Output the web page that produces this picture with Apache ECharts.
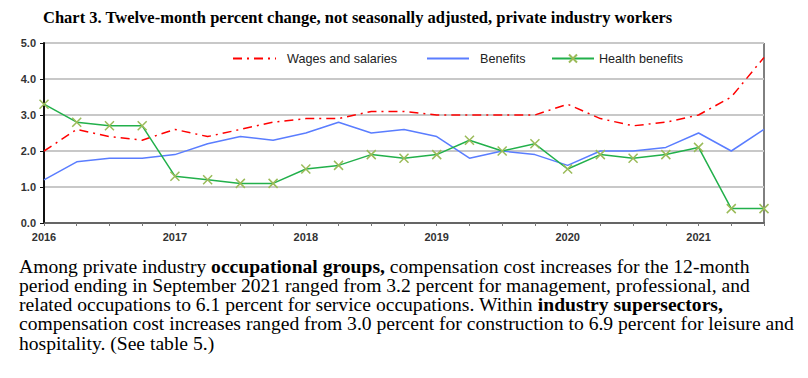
<!DOCTYPE html>
<html><head><meta charset="utf-8">
<script src="https://cdn.jsdelivr.net/npm/echarts@6/dist/echarts.min.js"></script>
<style>html,body{margin:0;padding:0;background:#fff}#c{width:808px;height:378px}</style>
</head><body><div id="c"></div>
<script>
const quarters = ["2016Q1","2016Q2","2016Q3","2016Q4","2017Q1","2017Q2","2017Q3","2017Q4","2018Q1","2018Q2","2018Q3","2018Q4","2019Q1","2019Q2","2019Q3","2019Q4","2020Q1","2020Q2","2020Q3","2020Q4","2021Q1","2021Q2","2021Q3"];
const wages = [2.0,2.6,2.4,2.3,2.6,2.4,2.6,2.8,2.9,2.9,3.1,3.1,3.0,3.0,3.0,3.0,3.3,2.9,2.7,2.8,3.0,3.5,4.6];
const benefits = [1.2,1.7,1.8,1.8,1.9,2.2,2.4,2.3,2.5,2.8,2.5,2.6,2.4,1.8,2.0,1.9,1.6,2.0,2.0,2.1,2.5,2.0,2.6];
const health = [3.3,2.8,2.7,2.7,1.3,1.2,1.1,1.1,1.5,1.6,1.9,1.8,1.9,2.3,2.0,2.2,1.5,1.9,1.8,1.9,2.1,0.4,0.4];
const yTicks = [0,1,2,3,4,5];
const titleText = "Chart 3. Twelve-month percent change, not seasonally adjusted, private industry workers";
const paraLines = [
  [["n","Among private industry "],["b","occupational groups,"],["n"," compensation cost increases for the 12-month"]],
  [["n","period ending in September 2021 ranged from 3.2 percent for management, professional, and"]],
  [["n","related occupations to 6.1 percent for service occupations. Within "],["b","industry supersectors,"]],
  [["n","compensation cost increases ranged from 3.0 percent for construction to 6.9 percent for leisure and"]],
  [["n","hospitality. (See table 5.)"]]
];

const chart = echarts.init(document.getElementById('c'), null, {renderer:'svg'});
const serif = "'Liberation Serif','Times New Roman',serif";
const sans = "'Liberation Sans',Arial,sans-serif";
const xPath = 'path://M0,0L10,10M10,0L0,10';
const paraText = paraLines.map(l => l.map(s => '{' + s[0] + '|' + s[1] + '}').join('')).join('\n');
const FS = 19.6, LH = 19.25;
const legText = {fontFamily:sans,fontSize:12.6,color:'#222',padding:[0,0,0,6]};

chart.setOption({
  animation:false,
  title:{text:titleText,left:43,top:9,padding:0,textStyle:{fontFamily:serif,fontWeight:'bold',fontSize:16.5,color:'#000'}},
  grid:{left:44,right:44,top:43,bottom:155,show:true,borderColor:'#000',borderWidth:1},
  legend:[
    {data:['Wages and salaries'],left:232,top:52,padding:0,itemWidth:43,itemHeight:10,itemStyle:{opacity:0},textStyle:legText},
    {data:['Benefits'],left:426,top:52,padding:0,itemWidth:42,itemHeight:10,itemStyle:{opacity:0},textStyle:legText},
    {data:['Health benefits'],left:551,top:52,padding:0,itemWidth:42,itemHeight:10,textStyle:Object.assign({},legText,{padding:[0,0,0,0]})}
  ],
  xAxis:{type:'category',data:quarters,boundaryGap:false,
    axisLine:{lineStyle:{color:'#444',width:1.5}},
    axisTick:{show:true,interval:0,length:3,lineStyle:{color:'#777'}},
    axisLabel:{interval:3,margin:8,fontFamily:sans,fontWeight:'bold',fontSize:11,color:'#333',formatter:v=>v.slice(0,4)},
    splitLine:{show:false}},
  yAxis:{type:'value',min:yTicks[0],max:yTicks[yTicks.length-1],interval:1,
    axisLine:{show:true,lineStyle:{color:'#111',width:2}},
    axisTick:{show:true,length:4,lineStyle:{color:'#111'}},
    axisLabel:{margin:8,fontFamily:sans,fontWeight:'bold',fontSize:11,color:'#333',formatter:v=>v.toFixed(1)},
    splitLine:{lineStyle:{color:'#c8c8c8',width:2}}},
  graphic:[{type:'text',left:19,top:256,style:{text:paraText,font:FS+'px '+serif,fill:'#000',lineHeight:LH,
    rich:{n:{fontFamily:serif,fontSize:FS,lineHeight:LH,fill:'#000'},b:{fontFamily:serif,fontSize:FS,fontWeight:'bold',lineHeight:LH,fill:'#000'}}}}],
  series:[
    {name:'Wages and salaries',type:'line',data:wages,symbol:'none',lineStyle:{color:'#ff0000',width:1.5,type:[9,5,2,5]},itemStyle:{color:'#ff0000'}},
    {name:'Benefits',type:'line',data:benefits,symbol:'none',lineStyle:{color:'#5a7dff',width:1.5},itemStyle:{color:'#5a7dff'}},
    {name:'Health benefits',type:'line',data:health,symbol:xPath,symbolSize:9,showSymbol:true,
      lineStyle:{color:'#22b04b',width:1.5},itemStyle:{color:'#9bbb59',borderColor:'#9bbb59',borderWidth:1.5}}
  ]
});
</script></body></html>
